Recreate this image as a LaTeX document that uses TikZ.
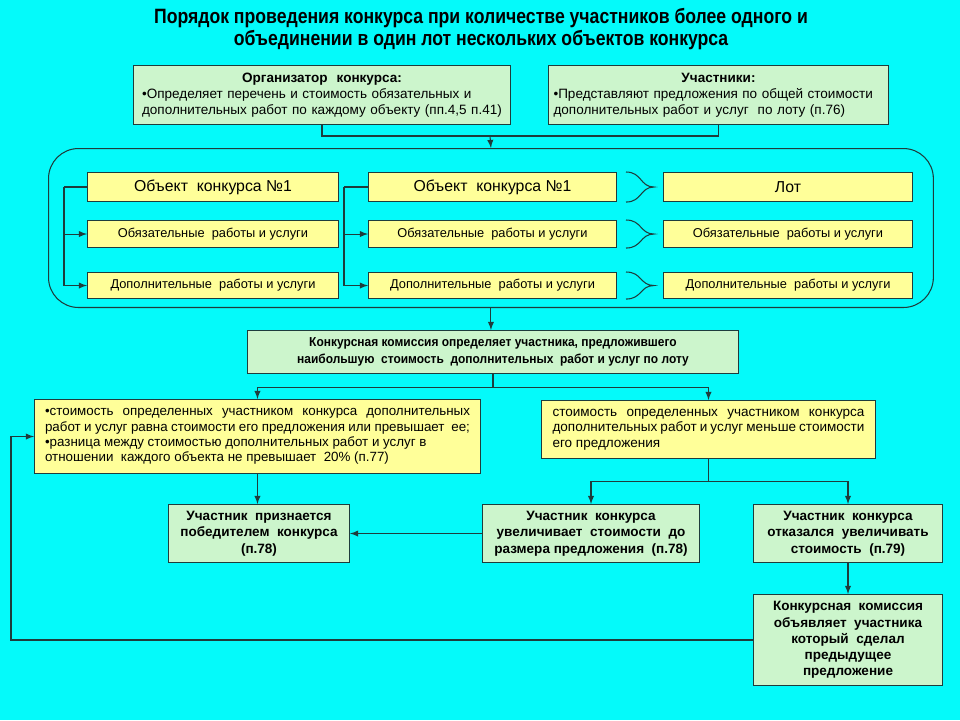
\documentclass[tikz,border=0pt]{standalone}
\usepackage{fontspec}
\setmainfont{Liberation Sans}
\newfontfamily\titlefont[FakeStretch=0.85]{Liberation Sans}
\newfontfamily\narrowfont[FakeStretch=0.92]{Liberation Sans}
\usetikzlibrary{calc}
\definecolor{bgcyan}{RGB}{4,250,250}
\definecolor{boxgreen}{RGB}{204,245,204}
\definecolor{boxyellow}{RGB}{255,255,153}
\definecolor{edgedark}{RGB}{30,60,60}
\tikzset{>=latex}

\begin{document}
\begin{tikzpicture}[x=0.02cm, y=-0.02cm,
  every node/.style={inner sep=0pt},
  greenbox/.style={draw=edgedark, line width=0.6pt, fill=boxgreen, anchor=north west, align=center},
  yellowbox/.style={draw=edgedark, line width=0.6pt, fill=boxyellow, anchor=north west, align=center},
  link/.style={draw=edgedark, line width=0.6pt},
  bigrow/.style={yellowbox, font=\fontsize{9}{10}\selectfont},
  smallrow/.style={yellowbox, font=\fontsize{7.3}{9}\selectfont}]
\useasboundingbox (0,0) rectangle (960,720);
\fill[bgcyan] (0,0) rectangle (960,720);

% title
\node[align=center, font=\titlefont\fontsize{11.8}{12.5}\selectfont\bfseries] (title) at (481,29)
  {Порядок проведения конкурса при количестве участников более одного и\\
   объединении в один лот нескольких объектов конкурса};

% top boxes
\node[greenbox, align=left, minimum width=7.54cm, minimum height=1.18cm, text width=7.2cm, font=\fontsize{7.7}{9}\selectfont] (org) at (133,65)
  {\centering\textbf{Организатор\ \ конкурса:}\par\raggedright •Определяет перечень и стоимость обязательных и\par
   дополнительных работ по каждому объекту (пп.4,5 п.41)};
\node[greenbox, align=left, minimum width=6.8cm, minimum height=1.18cm, text width=6.6cm, font=\fontsize{7.7}{9}\selectfont] (part) at (548,65)
  {\centering\textbf{Участники:}\par\raggedright •Представляют предложения по общей стоимости\par
   дополнительных работ и услуг\ \ по лоту (п.76)};

% frame with objects and lot
\node[draw=edgedark, line width=0.6pt, rounded corners=0.6cm, anchor=north west, minimum width=17.7cm, minimum height=3.18cm] (frame) at (48,148) {};

\node[bigrow, minimum width=5.02cm, minimum height=0.58cm] (obj1) at (87,172) {Объект\ \ конкурса №1};
\node[smallrow, minimum width=5.02cm, minimum height=0.54cm] (obl1) at (87,220) {Обязательные\ \ работы и услуги};
\node[smallrow, minimum width=5.02cm, minimum height=0.52cm] (dop1) at (87,272) {Дополнительные\ \ работы и услуги};

\node[bigrow, minimum width=4.96cm, minimum height=0.58cm] (obj2) at (368,172) {Объект\ \ конкурса №1};
\node[smallrow, minimum width=4.96cm, minimum height=0.54cm] (obl2) at (368,220) {Обязательные\ \ работы и услуги};
\node[smallrow, minimum width=4.96cm, minimum height=0.52cm] (dop2) at (368,272) {Дополнительные\ \ работы и услуги};

\node[bigrow, minimum width=4.98cm, minimum height=0.58cm] (lot) at (663,172) {Лот};
\node[smallrow, minimum width=4.98cm, minimum height=0.54cm] (obl3) at (663,220) {Обязательные\ \ работы и услуги};
\node[smallrow, minimum width=4.98cm, minimum height=0.52cm] (dop3) at (663,272) {Дополнительные\ \ работы и услуги};

% commission
\node[greenbox, minimum width=9.82cm, minimum height=0.86cm, font=\narrowfont\fontsize{7.4}{9.6}\selectfont\bfseries] (comm) at (247,330)
  {Конкурсная комиссия определяет участника, предложившего\\
   наибольшую\ \ стоимость\ \ дополнительных\ \ работ и услуг по лоту};

% conditions
\node[yellowbox, align=justify, minimum width=8.92cm, minimum height=1.48cm, text width=8.5cm, font=\fontsize{7.6}{8.8}\selectfont] (cond1) at (34,399)
  {•стоимость определенных участником конкурса дополнительных\linebreak
   работ и услуг равна стоимости его предложения или превышает\ \ ее;\par
   •разница между стоимостью дополнительных работ и услуг в\\
   отношении\ \ каждого объекта не превышает\ \ 20\% (п.77)};
\node[yellowbox, align=justify, minimum width=6.68cm, minimum height=1.16cm, text width=6.24cm, font=\fontsize{7.7}{8.8}\selectfont] (cond2) at (541,400)
  {стоимость определенных участником конкурса\linebreak
   дополнительных работ и услуг меньше стоимости\linebreak
   его предложения};

% results
\node[greenbox, minimum width=3.62cm, minimum height=1.16cm, font=\fontsize{7.7}{9.4}\selectfont\bfseries] (win) at (168,504)
  {Участник\ \ признается\\победителем\ \ конкурса\\(п.78)};
\node[greenbox, minimum width=4.34cm, minimum height=1.16cm, font=\fontsize{7.7}{9.4}\selectfont\bfseries] (incr) at (482,504)
  {Участник\ \ конкурса\\увеличивает\ \ стоимости\ \ до\\размера предложения\ \ (п.78)};
\node[greenbox, minimum width=3.78cm, minimum height=1.16cm, font=\fontsize{7.7}{9.4}\selectfont\bfseries] (refuse) at (753,504)
  {Участник\ \ конкурса\\отказался\ \ увеличивать\\стоимость\ \ (п.79)};
\node[greenbox, minimum width=3.78cm, minimum height=1.82cm, font=\fontsize{7.7}{9.2}\selectfont\bfseries] (prev) at (753,594)
  {Конкурсная\ \ комиссия\\объявляет\ \ участника\\который\ \ сделал\\предыдущее\\предложение};

% connectors
\coordinate (j1) at (490,136);
\draw[link] (org.south) |- (j1) -| (part.south);
\draw[link,->] (j1) -- (frame.north);

\draw[link] (obj1.west) -- ++(-23,0) coordinate (k1);
\draw[link,->] (k1) |- (obl1.west);
\draw[link,->] (k1) |- (dop1.west);
\draw[link] (obj2.west) -- ++(-24,0) coordinate (k2);
\draw[link,->] (k2) |- (obl2.west);
\draw[link,->] (k2) |- (dop2.west);

\foreach \src in {obj2, obl2, dop2}
  \draw[link] ($(\src.north east)+(9,0)$) .. controls +(16,0) and +(-14,0) .. ($(\src.east)+(37,0)$)
                                          .. controls +(-14,0) and +(16,0) .. ($(\src.south east)+(9,0)$);

\draw[link,->] (frame.south) -- (frame.south |- comm.north);
\draw[link] (comm.south) -- ++(0,13) coordinate (j2);
\draw[link,->] (j2) -| (cond1.north);
\draw[link,->] (j2) -| (cond2.north);

\draw[link,->] (cond1.south) -- (cond1.south |- win.north);
\draw[link] (cond2.south) -- ++(0,22) coordinate (j3);
\draw[link,->] (j3) -| (incr.north);
\draw[link,->] (j3) -| (refuse.north);
\draw[link,->] (incr.west) -- (win.east);
\draw[link,->] (refuse.south) -- (prev.north);
\draw[link,->] (prev.west) -- ++(-742,0) |- (cond1.west);
\end{tikzpicture}
\end{document}
